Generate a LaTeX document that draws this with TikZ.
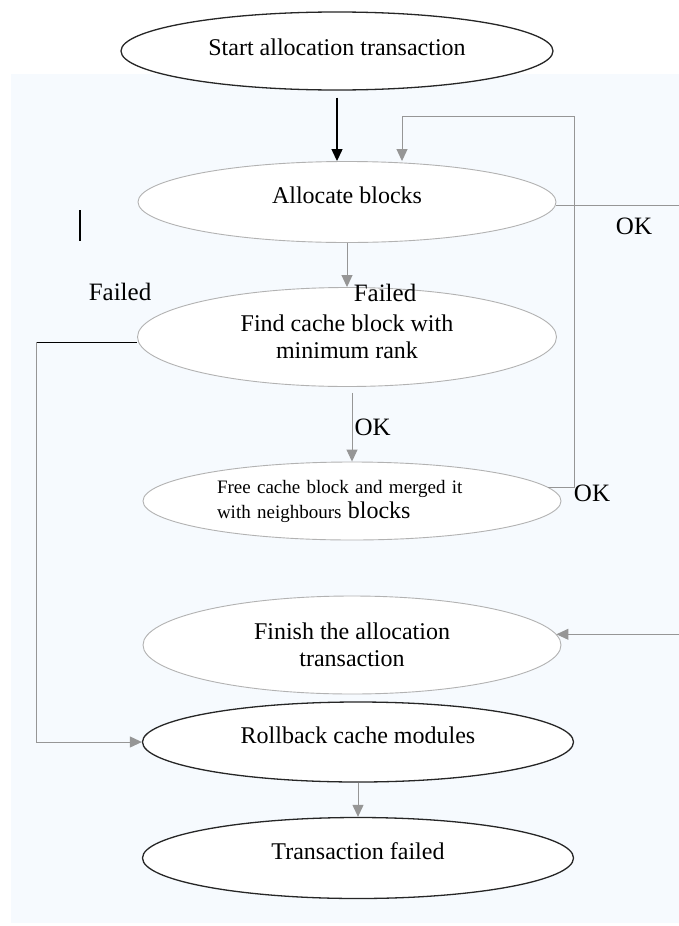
\documentclass[tikz,border=0pt]{standalone}
\usepackage{fontspec}
\setmainfont{Liberation Serif}
\usetikzlibrary{shapes.geometric,arrows.meta,calc}
\definecolor{paneltint}{RGB}{246,250,254}
\definecolor{flowgray}{RGB}{150,150,150}
\definecolor{rimgray}{RGB}{178,178,178}

\begin{document}
\begin{tikzpicture}[x=1pt,y=-1pt,
	>={Triangle[length=12pt,width=11pt]},
	stage/.style={ellipse, draw=rimgray, fill=white, line width=0.9pt, inner sep=0pt, align=center, font=\fontsize{24}{27}\selectfont},
	endstage/.style={stage, draw=black!85, line width=1.3pt},
	raised/.style={text depth=14pt},
	flow/.style={draw=flowgray, line width=1pt},
	tag/.style={inner sep=0pt, font=\fontsize{25}{28}\selectfont}]
		\useasboundingbox (0,0) rectangle (679,926);
		\clip (0,0) rectangle (679,926);
		\fill[white] (0,0) rectangle (679,926);
		\fill[paneltint] (11,74) rectangle (679,923);
		\node[endstage, text depth=8pt, minimum width=432pt, minimum height=78pt] at (337,51) (start) {Start allocation transaction};
		\node[stage, raised, minimum width=418pt, minimum height=81pt] at (347,202) (alloc) {Allocate blocks};
		\node[stage, minimum width=419pt, minimum height=99pt] at (347,337) (find) {Find cache block with\\minimum rank};
		\node[stage, minimum width=418pt, minimum height=78pt, text width=270pt, align=left, font=\fontsize{19}{25}\selectfont] at (352,501) (free) {Free cache block and merged it\\with neighbours {\fontsize{24}{25}\selectfont blocks}};
		\node[stage, minimum width=418pt, minimum height=98pt] at (352,645) (finish) {Finish the allocation\\transaction};
		\node[endstage, raised, minimum width=431pt, minimum height=80pt] at (358,742) (rollback) {Rollback cache modules};
		\node[endstage, raised, minimum width=431pt, minimum height=81pt] at (358,858) (failed) {Transaction failed};
		\node[tag] at (120,292) (failleft) {Failed};
		\node[tag] at (385,293) (failmid) {Failed};
		\node[tag] at (634,226) (okalloc) {OK};
		\node[tag] at (592,493) (okfree) {OK};
		\draw[->, line width=1.3pt] ([yshift=-7pt]start.south) -- (start.south |- alloc.north);
		\coordinate (loopturn) at (574,116);
		\coordinate (loopback) at (402,116);
		\draw[flow,->] (free.4) -| (loopturn) -- (loopback) -- (loopback |- alloc.north);
		\draw[flow,->] (alloc.-1) -- ++(160,0) |- (finish.3);
		\draw[flow,->] (alloc.south) -- (find.north);
		\draw[flow,->] ($(free.north |- find.south)+(0,6)$) -- node[tag, right=2pt] (okfind) {OK} (free.north);
		\coordinate (failturn) at (36,342);
		\draw[line width=1pt] (failturn -| find.west) -- (failturn);
		\draw[flow,->] (failturn) |- (rollback.west);
		\draw[flow,->] (rollback.south) -- (failed.north);
		\draw[line width=1.8pt] (80,210) -- (80,241);
\end{tikzpicture}
\end{document}
